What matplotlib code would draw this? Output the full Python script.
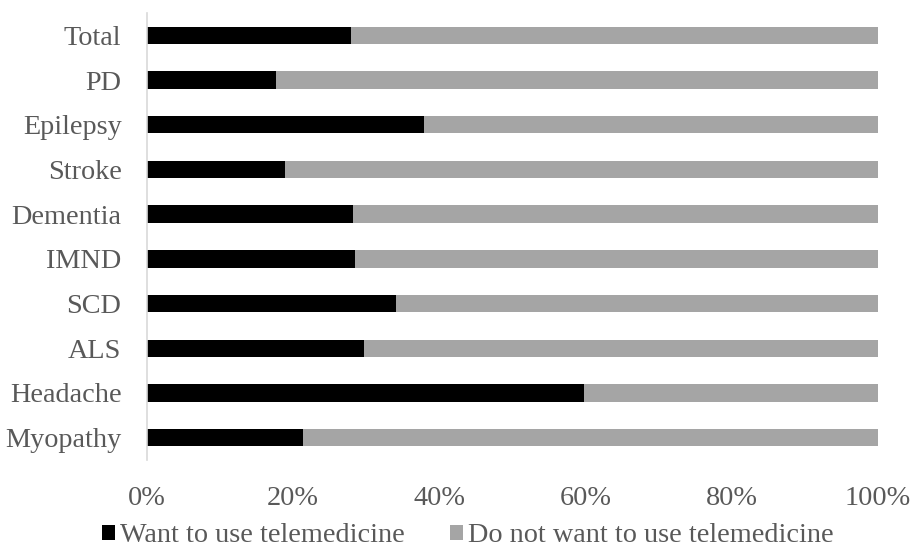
import matplotlib.pyplot as plt
import numpy as np

# categories, top to bottom
categories = ["Total", "PD", "Epilepsy", "Stroke", "Dementia",
              "IMND", "SCD", "ALS", "Headache", "Myopathy"]
want = [28.0, 17.7, 38.0, 18.9, 28.2, 28.5, 34.1, 29.8, 59.8, 21.4]
not_want = [100 - v for v in want]
xticks = [0, 20, 40, 60, 80, 100]
xtick_labels = ["0%", "20%", "40%", "60%", "80%", "100%"]

plt.rcParams['font.family'] = ['Liberation Serif', 'DejaVu Serif']
text_col = "#595959"
fs = 20.3

fig = plt.figure(figsize=(9.11, 5.5), dpi=100)
ax = fig.add_axes([146.5 / 911, 90 / 550, (878 - 146.5) / 911, 447 / 550])

y = np.arange(len(categories))
ax.barh(y, want, height=0.39, color="black", label="Want to use telemedicine")
ax.barh(y, not_want, left=want, height=0.39, color="#a5a5a5",
        label="Do not want to use telemedicine")

ax.set_ylim(len(categories) - 0.5, -0.5)
ax.set_xlim(0, 100)
ax.set_yticks(y)
ax.set_yticklabels(categories)
ax.set_xticks(xticks)
ax.set_xticklabels(xtick_labels)
ax.tick_params(axis="both", length=0, labelsize=fs, colors=text_col)
ax.tick_params(axis="y", pad=18)
ax.tick_params(axis="x", pad=19)
for s in ["top", "right", "bottom"]:
    ax.spines[s].set_visible(False)
ax.spines["left"].set_color("#d9d9d9")
ax.spines["left"].set_linewidth(1.2)

leg = fig.legend(loc="center", bbox_to_anchor=(468 / 911, 1 - 536 / 550), ncol=2,
                 frameon=False, fontsize=fs, handlelength=0.45, handleheight=0.45,
                 handletextpad=0.2, columnspacing=1.6, borderpad=0)
for t in leg.get_texts():
    t.set_color(text_col)

fig.savefig("out.png", dpi=100)
